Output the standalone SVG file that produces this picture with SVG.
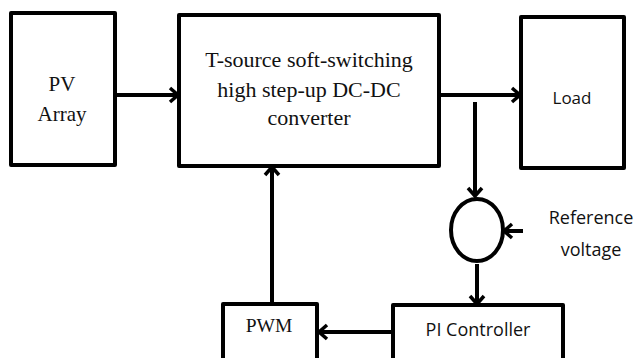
<svg xmlns="http://www.w3.org/2000/svg" width="634" height="358" viewBox="0 0 634 358">
<style>
.box{fill:#fff;stroke:#000;stroke-width:4;stroke-linejoin:round}
.ln{fill:none;stroke:#000;stroke-width:4}
.serif{font-family:"Liberation Serif","DejaVu Serif",serif;fill:#111;text-anchor:middle}
.sans{font-family:"Open Sans","Liberation Sans",sans-serif;fill:#111;text-anchor:middle}
</style>
<defs>
<marker id="arr" markerUnits="userSpaceOnUse" markerWidth="16" markerHeight="20" refX="12" refY="10" orient="auto">
<path d="M4,3 L12,10 L4,17" fill="none" stroke="#000" stroke-width="3.5" stroke-linejoin="miter"/>
</marker>
</defs>
<g id="connectors">
<line class="ln" x1="115" y1="95" x2="178" y2="95" marker-end="url(#arr)"/>
<line class="ln" x1="439" y1="95" x2="520" y2="95" marker-end="url(#arr)"/>
<line class="ln" x1="475" y1="102" x2="475" y2="196" marker-end="url(#arr)"/>
<line class="ln" x1="523" y1="231" x2="504" y2="231" marker-end="url(#arr)"/>
<line class="ln" x1="477" y1="264" x2="477" y2="304" marker-end="url(#arr)"/>
<line class="ln" x1="393" y1="332" x2="319" y2="332" marker-end="url(#arr)"/>
<line class="ln" x1="272" y1="304" x2="272" y2="167" marker-end="url(#arr)"/>
</g>
<g id="pv">
<rect class="box" x="11" y="13" width="104" height="152"/>
<text class="serif" x="62" y="91" font-size="21">PV</text>
<text class="serif" x="62" y="121" font-size="21">Array</text>
</g>
<g id="converter">
<rect class="box" x="179" y="15" width="260" height="151"/>
<text class="serif" x="309" y="67" font-size="22">T-source soft-switching</text>
<text class="serif" x="309" y="97" font-size="22">high step-up DC-DC</text>
<text class="serif" x="309" y="125" font-size="22">converter</text>
</g>
<g id="load">
<rect class="box" x="521" y="17" width="103" height="151"/>
<text class="sans" x="572" y="104" font-size="17">Load</text>
</g>
<g id="sum">
<ellipse class="box" cx="477" cy="230" rx="26" ry="31"/>
</g>
<g id="reference">
<text class="sans" x="591" y="224" font-size="18">Reference</text>
<text class="sans" x="591" y="256" font-size="18">voltage</text>
</g>
<g id="pi">
<rect class="box" x="393" y="305" width="170" height="70"/>
<text class="sans" x="478" y="336" font-size="18">PI Controller</text>
</g>
<g id="pwm">
<rect class="box" x="223" y="304" width="94" height="70"/>
<text class="serif" x="269" y="332" font-size="19.5">PWM</text>
</g>
</svg>
